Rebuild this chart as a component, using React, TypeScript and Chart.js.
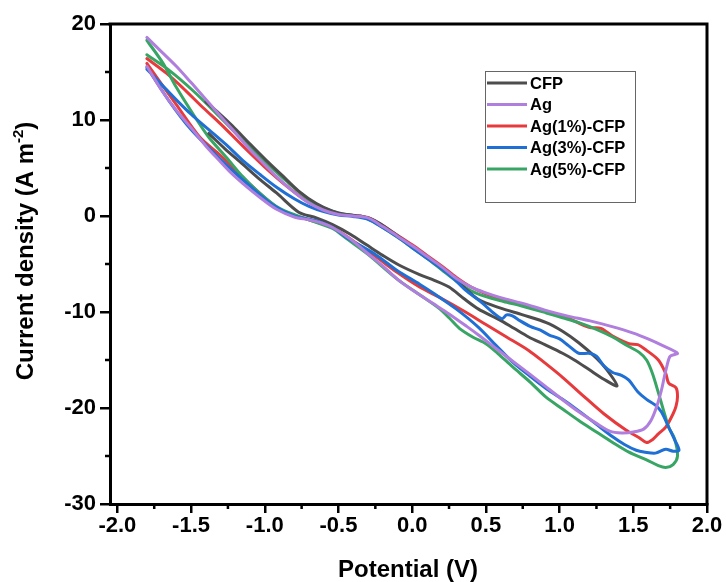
import React, { useEffect, useRef } from 'react';
import { Chart, registerables } from 'chart.js';

Chart.register(...registerables);

// ---------------- data (Potential V, Current density A m^-2) ----------------
const seriesLabels = ['CFP', 'Ag', 'Ag(1%)-CFP', 'Ag(3%)-CFP', 'Ag(5%)-CFP'];
const seriesColors = ['#4d4d4d', '#b07fdd', '#e63a3d', '#1f6fd4', '#38a564'];

const cfpCurve: number[][] = [
  [-1.40, 11.9], [-1.31, 10.7], [-1.22, 9.4], [-1.10, 7.5], [-0.99, 5.8], [-0.88, 4.2], [-0.77, 2.6],
  [-0.65, 1.3], [-0.54, 0.5], [-0.45, 0.15], [-0.35, 0.0], [-0.25, -0.5], [-0.15, -1.5], [-0.05, -2.6],
  [0.05, -3.7], [0.15, -4.8], [0.25, -6.0], [0.35, -7.4], [0.45, -8.7], [0.60, -9.6], [0.75, -10.3],
  [0.91, -11.1], [1.02, -12.0], [1.13, -13.2], [1.25, -14.8], [1.32, -16.0], [1.39, -17.7],
  [1.30, -17.0], [1.20, -16.0], [1.10, -15.0], [1.02, -14.3], [0.90, -13.4], [0.79, -12.6], [0.69, -11.7],
  [0.59, -10.8], [0.45, -9.7], [0.35, -8.6], [0.25, -7.4], [0.15, -6.7], [0.05, -6.1], [-0.09, -5.1],
  [-0.20, -4.1], [-0.31, -3.0], [-0.42, -1.9], [-0.54, -0.9], [-0.65, -0.2], [-0.77, 0.4], [-0.92, 2.4],
  [-1.04, 3.9], [-1.15, 5.4], [-1.27, 7.0], [-1.38, 8.6],
];

const agCurve: number[][] = [
  [-1.80, 18.6], [-1.70, 17.1], [-1.60, 15.6], [-1.50, 13.9], [-1.42, 12.5], [-1.34, 11.1], [-1.26, 9.7],
  [-1.18, 8.3], [-1.10, 6.9], [-1.01, 5.5], [-0.92, 4.1], [-0.81, 2.6], [-0.70, 1.35], [-0.60, 0.6],
  [-0.50, 0.15], [-0.40, 0.0], [-0.30, -0.2], [-0.20, -1.1], [-0.10, -2.1], [0.00, -3.1], [0.10, -4.2],
  [0.20, -5.3], [0.30, -6.5], [0.40, -7.4], [0.50, -8.0], [0.60, -8.5], [0.75, -9.1], [0.90, -9.8],
  [1.05, -10.4], [1.20, -10.9], [1.35, -11.5], [1.50, -12.2], [1.60, -12.8], [1.70, -13.5], [1.80, -14.3],
  [1.75, -14.6], [1.73, -15.5], [1.71, -16.8], [1.69, -18.2], [1.66, -19.8], [1.62, -21.3], [1.57, -22.2],
  [1.50, -22.5], [1.42, -22.6], [1.34, -22.4], [1.25, -21.6], [1.13, -20.4], [1.00, -18.9], [0.90, -17.7],
  [0.80, -16.5], [0.68, -15.1], [0.56, -13.7], [0.45, -12.4], [0.37, -11.5], [0.25, -10.2], [0.14, -9.1],
  [0.02, -7.9], [-0.09, -6.7], [-0.20, -5.2], [-0.31, -3.8], [-0.42, -2.4], [-0.54, -1.2], [-0.62, -0.7],
  [-0.70, -0.4], [-0.80, -0.1], [-0.92, 0.7], [-1.03, 1.9], [-1.15, 3.4], [-1.23, 4.5], [-1.31, 5.8],
  [-1.40, 7.3], [-1.49, 9.0], [-1.60, 11.0], [-1.70, 13.1], [-1.80, 15.6],
];

const ag1Curve: number[][] = [
  [-1.80, 16.4], [-1.67, 14.9], [-1.56, 13.4], [-1.42, 11.3], [-1.30, 9.6], [-1.15, 7.3], [-1.00, 5.1],
  [-0.85, 3.1], [-0.70, 1.4], [-0.60, 0.65], [-0.50, 0.2], [-0.40, 0.05], [-0.30, -0.15], [-0.20, -1.0],
  [-0.10, -2.0], [0.00, -3.0], [0.10, -4.1], [0.20, -5.2], [0.30, -6.4], [0.40, -7.4], [0.50, -8.1],
  [0.60, -8.6], [0.75, -9.2], [0.90, -9.9], [1.05, -10.6], [1.20, -11.6], [1.28, -11.7], [1.36, -12.5],
  [1.47, -13.3], [1.53, -13.4], [1.59, -14.0], [1.67, -15.0], [1.72, -16.4], [1.74, -17.4], [1.79, -17.9],
  [1.80, -18.8], [1.79, -19.8], [1.77, -20.6], [1.72, -22.0], [1.67, -22.7], [1.63, -23.3], [1.59, -23.6],
  [1.54, -23.1], [1.45, -22.3], [1.30, -20.6], [1.18, -19.0], [1.02, -16.8], [0.90, -15.3], [0.79, -14.0],
  [0.64, -12.6], [0.50, -11.3], [0.35, -9.9], [0.20, -8.6], [0.05, -7.4], [-0.10, -5.9], [-0.25, -4.2],
  [-0.40, -2.6], [-0.54, -1.2], [-0.70, -0.4], [-0.90, 0.7], [-1.10, 3.3], [-1.30, 6.3], [-1.44, 8.2],
  [-1.60, 11.6], [-1.80, 15.9],
];

const ag3Curve: number[][] = [
  [-1.80, 15.3], [-1.70, 13.7], [-1.60, 12.1], [-1.50, 10.6], [-1.38, 9.0], [-1.26, 7.4], [-1.15, 5.8],
  [-1.03, 4.3], [-0.92, 3.0], [-0.80, 1.8], [-0.70, 1.0], [-0.60, 0.45], [-0.50, 0.1], [-0.40, -0.05],
  [-0.30, -0.35], [-0.20, -1.2], [-0.10, -2.2], [0.00, -3.3], [0.10, -4.4], [0.20, -5.5], [0.28, -6.5],
  [0.36, -7.7], [0.47, -9.0], [0.56, -10.2], [0.61, -10.7], [0.64, -10.3], [0.68, -10.4], [0.73, -10.9],
  [0.80, -11.5], [0.87, -11.9], [0.93, -12.4], [1.00, -12.8], [1.06, -13.5], [1.13, -14.3], [1.20, -14.3],
  [1.25, -14.6], [1.30, -15.6], [1.36, -16.3], [1.42, -16.6], [1.47, -17.1], [1.53, -18.3], [1.59, -19.1],
  [1.65, -19.7], [1.69, -20.4], [1.74, -22.0], [1.78, -23.3], [1.81, -24.4],
  [1.77, -24.5], [1.72, -24.3], [1.65, -24.7], [1.58, -24.6], [1.52, -24.4], [1.44, -23.8], [1.36, -23.0],
  [1.25, -21.7], [1.13, -20.3], [1.02, -19.1], [0.91, -18.0], [0.80, -16.7], [0.68, -15.2], [0.57, -13.5],
  [0.45, -11.6], [0.30, -9.7], [0.15, -8.1], [0.05, -7.1], [-0.10, -5.7], [-0.25, -4.0], [-0.43, -2.4],
  [-0.54, -1.2], [-0.65, -0.5], [-0.80, 0.0], [-0.95, 1.2], [-1.10, 3.1], [-1.30, 5.9], [-1.50, 9.0],
  [-1.65, 12.0], [-1.80, 15.5],
];

const ag5Curve: number[][] = [
  [-1.80, 16.8], [-1.65, 15.2], [-1.49, 13.1], [-1.31, 10.4], [-1.15, 7.9], [-1.00, 5.7], [-0.85, 3.6],
  [-0.70, 1.7], [-0.60, 0.85], [-0.50, 0.3], [-0.40, 0.05], [-0.30, -0.3], [-0.20, -1.2], [-0.10, -2.2],
  [0.00, -3.3], [0.10, -4.4], [0.20, -5.6], [0.30, -6.8], [0.40, -7.8], [0.50, -8.4], [0.62, -8.9],
  [0.75, -9.4], [0.91, -10.1], [1.02, -10.6], [1.13, -11.1], [1.25, -11.8], [1.36, -12.6], [1.47, -13.6],
  [1.54, -14.2], [1.59, -15.0], [1.63, -16.4], [1.67, -18.4], [1.71, -20.5], [1.74, -22.0], [1.78, -23.2],
  [1.80, -25.0], [1.77, -25.9], [1.72, -26.2], [1.67, -26.0], [1.59, -25.4], [1.47, -24.6], [1.36, -23.6],
  [1.25, -22.5], [1.13, -21.3], [1.02, -20.1], [0.91, -18.9], [0.80, -17.3], [0.68, -15.7], [0.58, -14.3],
  [0.50, -13.3], [0.41, -12.6], [0.32, -11.7], [0.25, -10.6], [0.18, -9.6], [0.05, -8.2], [-0.10, -6.6],
  [-0.30, -4.0], [-0.45, -2.3], [-0.54, -1.3], [-0.70, -0.4], [-0.90, 0.8], [-1.05, 2.6], [-1.15, 4.1],
  [-1.26, 6.1], [-1.38, 8.2], [-1.49, 10.7], [-1.60, 13.4], [-1.69, 15.9], [-1.80, 18.3],
];

const seriesCurves = [cfpCurve, agCurve, ag1Curve, ag3Curve, ag5Curve];
const seriesDrawOrder = [2, 0, 4, 1, 3];

const xMajorTicks = [-2.0, -1.5, -1.0, -0.5, 0.0, 0.5, 1.0, 1.5, 2.0];
const xMinorTicks = [-1.75, -1.25, -0.75, -0.25, 0.25, 0.75, 1.25, 1.75];
const yMinorTicks = [15, 5, -5, -15, -25];
const xTitle = 'Potential (V)';
const yTitleMain = 'Current density (A m';
const yTitleSup = '-2';
const yTitleEnd = ')';

const FONT = '"Liberation Sans", Arial, Helvetica, sans-serif';

const framePlugin = {
  id: 'frameAndMinor',
  afterDraw(chart: any) {
    const { ctx, chartArea } = chart;
    const xs = chart.scales.x;
    const ys = chart.scales.y;
    ctx.save();
    ctx.strokeStyle = '#000';
    ctx.lineWidth = 3;
    ctx.beginPath();
    ctx.moveTo(chartArea.left - 1.5, chartArea.top);
    ctx.lineTo(chartArea.right, chartArea.top);
    ctx.lineTo(chartArea.right, chartArea.bottom + 1.5);
    ctx.stroke();
    // minor ticks
    ctx.lineWidth = 2.5;
    ctx.beginPath();
    xMinorTicks.forEach((v) => {
      const px = xs.getPixelForValue(v);
      ctx.moveTo(px, chartArea.bottom);
      ctx.lineTo(px, chartArea.bottom + 5);
    });
    yMinorTicks.forEach((v) => {
      const py = ys.getPixelForValue(v);
      ctx.moveTo(chartArea.left, py);
      ctx.lineTo(chartArea.left - 5, py);
    });
    ctx.stroke();

    // axis titles
    ctx.fillStyle = '#000';
    ctx.font = `bold 24px ${FONT}`;
    ctx.textAlign = 'center';
    ctx.textBaseline = 'alphabetic';
    ctx.fillText(xTitle, 408, 577);

    ctx.save();
    ctx.translate(33, 251);
    ctx.rotate(-Math.PI / 2);
    ctx.textAlign = 'left';
    const mainFont = `bold 24px ${FONT}`;
    const supFont = `bold 15px ${FONT}`;
    ctx.font = mainFont;
    const w1 = ctx.measureText(yTitleMain).width;
    const w3 = ctx.measureText(yTitleEnd).width;
    ctx.font = supFont;
    const w2 = ctx.measureText(yTitleSup).width;
    const total = w1 + w2 + w3;
    let x0 = -total / 2;
    ctx.font = mainFont;
    ctx.fillText(yTitleMain, x0, 0);
    x0 += w1;
    ctx.font = supFont;
    ctx.fillText(yTitleSup, x0, -10);
    x0 += w2;
    ctx.font = mainFont;
    ctx.fillText(yTitleEnd, x0, 0);
    ctx.restore();

    // legend
    const lx = 485.5;
    const ly = 71.5;
    ctx.fillStyle = '#fff';
    ctx.fillRect(lx, ly, 150, 131);
    ctx.strokeStyle = '#666';
    ctx.lineWidth = 1;
    ctx.strokeRect(lx, ly, 150, 131);
    chart.data.datasets.forEach((ds: any, i: number) => {
      const y = 83 + i * 21.5;
      ctx.strokeStyle = ds.borderColor;
      ctx.lineWidth = 3;
      ctx.beginPath();
      ctx.moveTo(487, y);
      ctx.lineTo(527, y);
      ctx.stroke();
      ctx.fillStyle = '#000';
      ctx.font = `bold 16.5px ${FONT}`;
      ctx.textAlign = 'left';
      ctx.textBaseline = 'middle';
      ctx.fillText(ds.label, 530, y + 1);
    });
    ctx.restore();
  },
};

export default function App() {
  const canvasRef = useRef<HTMLCanvasElement | null>(null);

  useEffect(() => {
    document.body.style.margin = '0';
    const canvas = canvasRef.current;
    if (!canvas) return;
    const chart = new Chart(canvas, {
      type: 'scatter',
      data: {
        datasets: seriesLabels.map((label, i) => ({
          label,
          data: seriesCurves[i].map(([x, y]) => ({ x, y })),
          borderColor: seriesColors[i],
          backgroundColor: seriesColors[i],
          borderWidth: 3,
          showLine: true,
          pointRadius: 0,
          tension: 0.3,
          borderJoinStyle: 'round' as const,
          borderCapStyle: 'round' as const,
          order: seriesDrawOrder[i],
        })),
      },
      options: {
        animation: false,
        responsive: false,
        devicePixelRatio: 1,
        layout: { padding: { left: 0, right: 19, top: 24, bottom: 0 } },
        plugins: { legend: { display: false }, tooltip: { enabled: false } },
        scales: {
          x: {
            type: 'linear',
            min: -2.05,
            max: 2.0,
            afterBuildTicks: (scale: any) => {
              scale.ticks = xMajorTicks.map((v) => ({ value: v }));
            },
            afterFit: (scale: any) => {
              scale.height = 78;
            },
            border: { display: true, color: '#000', width: 3 },
            grid: { display: true, drawOnChartArea: false, drawTicks: true, tickLength: 9, color: '#000', lineWidth: 2.5 },
            ticks: {
              autoSkip: false,
              maxRotation: 0,
              padding: 0,
              color: '#000',
              font: { family: FONT, size: 22, weight: 'bold' },
              callback: (v: any) => Number(v).toFixed(1),
            },
          },
          y: {
            type: 'linear',
            min: -30,
            max: 20,
            afterFit: (scale: any) => {
              scale.width = 110;
            },
            border: { display: true, color: '#000', width: 3 },
            grid: { display: true, drawOnChartArea: false, drawTicks: true, tickLength: 10, color: '#000', lineWidth: 2.5 },
            ticks: {
              stepSize: 10,
              padding: 4,
              color: '#000',
              font: { family: FONT, size: 22, weight: 'bold' },
              callback: (v: any) => String(v),
            },
          },
        },
      },
      plugins: [framePlugin],
    });
    return () => chart.destroy();
  }, []);

  return (
    <div style={{ width: 726, height: 582 }}>
      <canvas ref={canvasRef} width={726} height={582} style={{ display: 'block' }} />
    </div>
  );
}
